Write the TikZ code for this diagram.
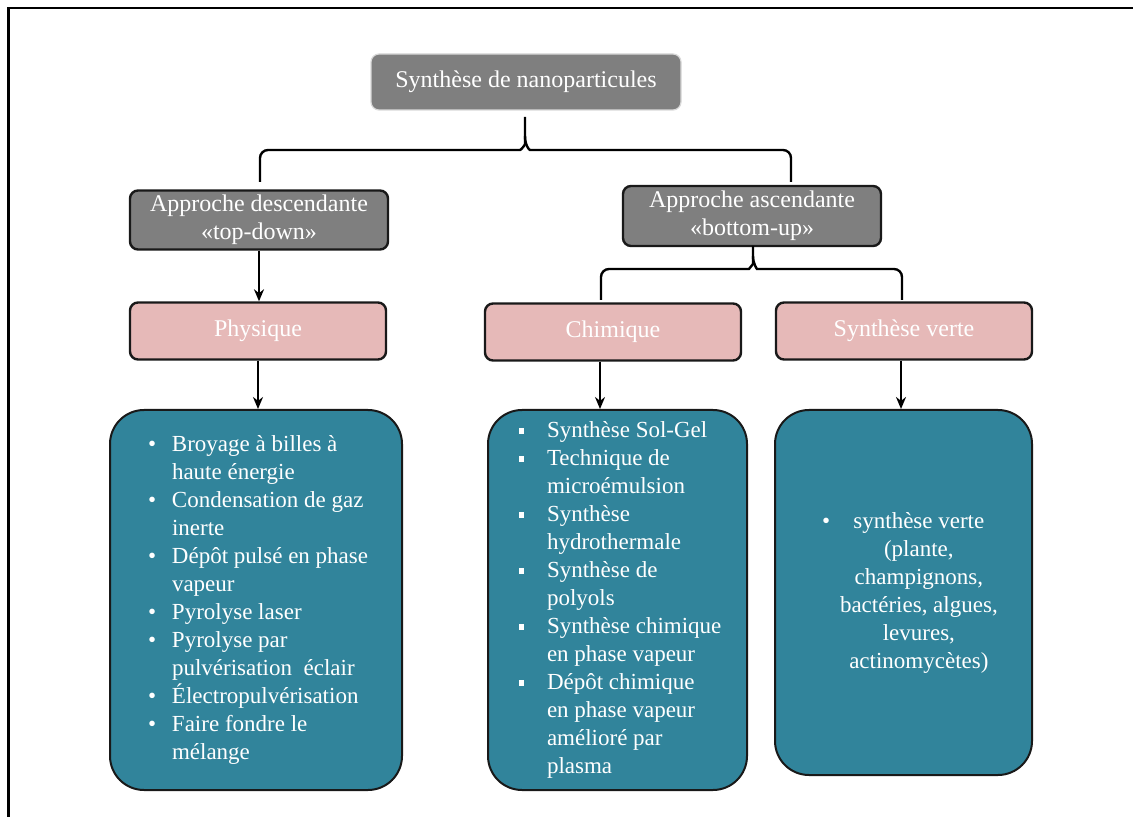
\documentclass[tikz,border=0pt]{standalone}
\usepackage{fontspec}
\setmainfont{Liberation Serif}
\usetikzlibrary{arrows.meta, calc, positioning}
\definecolor{grisbox}{RGB}{127,127,127}
\definecolor{rosebox}{RGB}{230,185,184}
\definecolor{bleubox}{RGB}{49,132,155}
\definecolor{bord}{RGB}{25,25,25}
\newcommand{\rond}{\makebox[12pt][l]{•}}
\newcommand{\carre}{\makebox[14pt][l]{\rule[2pt]{2.6pt}{2.6pt}}}

\begin{document}
\begin{tikzpicture}[x=0.5pt, y=-0.5pt,
    titre/.style={draw=bord, line width=1.2pt, fill=grisbox, rounded corners=4pt, text=white,
        align=center, font=\fontsize{12}{14}\selectfont, inner ysep=1pt},
    methode/.style={draw=bord, line width=1.2pt, fill=rosebox, rounded corners=4pt, text=white,
        font=\fontsize{12}{14}\selectfont, minimum width=128pt, minimum height=28.5pt},
    liste/.style={draw=bord, line width=1pt, fill=bleubox, rounded corners=17pt, text=white,
        inner sep=0pt, font=\fontsize{11.5}{14}\selectfont},
    fleche/.style={line width=1pt, -{Stealth[length=6pt,width=5pt]}},
    accolade/.style={line width=1.2pt, rounded corners=4pt}]

    \useasboundingbox (0,0) rectangle (1133,817);

    % Cadre
    \draw[line width=1.3pt] (1133,8) -- (8.5,8) -- (8.5,817);

    % Titre et approches
    \node[titre, draw=gray!30, line width=0.6pt, minimum width=155pt, minimum height=28pt] (nano) at (526,82) {Synthèse de nanoparticules};
    \node[titre, minimum width=129pt, minimum height=29.5pt] (descendante) at (259,220) {Approche descendante\\«top-down»};
    \node[titre, minimum width=129pt, minimum height=30pt] (ascendante) at (752,216) {Approche ascendante\\«bottom-up»};

    % Methodes
    \node[methode] (phys) at (258,331) {Physique};
    \node[methode] (chim) at (613,332) {Chimique};
    \node[methode] (verte) at (904,331) {Synthèse verte};

    % Listes
    \node[liste, minimum width=146pt, minimum height=190pt] (physliste) at (256,600) {%
        \makebox[146pt][l]{\hspace{19pt}%
        \begin{tabular}{@{}l@{}l@{}}
            \rond & Broyage à billes  à\\
                  & haute énergie\\
            \rond & Condensation de gaz\\
                  & inerte\\
            \rond & Dépôt pulsé en phase\\
                  & vapeur\\
            \rond & Pyrolyse laser\\
            \rond & Pyrolyse par\\
                  & pulvérisation~ éclair\\
            \rond & Électropulvérisation\\
            \rond & Faire fondre le\\
                  & mélange
        \end{tabular}}};
    \node[liste, minimum width=129.5pt, minimum height=190pt] (chimliste) at (617.5,600) {%
        \makebox[129.5pt][l]{\hspace{15.5pt}%
        \begin{tabular}{@{}l@{}l@{}}
            \carre & Synthèse Sol-Gel\\
            \carre & Technique de\\
                   & microémulsion\\
            \carre & Synthèse\\
                   & hydrothermale\\
            \carre & Synthèse de\\
                   & polyols\\
            \carre & Synthèse chimique\\
                   & en phase vapeur\\
            \carre & Dépôt chimique\\
                   & en phase vapeur\\
                   & amélioré par\\
                   & plasma
        \end{tabular}}};
    \node[liste, minimum width=128.5pt, minimum height=182.5pt] (verteliste) at (903.5,592.5) {%
        \makebox[128.5pt][l]{\hspace{23.5pt}%
        \begin{tabular}{@{}l@{}c@{}}
            \makebox[9pt][l]{•} & synthèse verte\\
                  & (plante,\\
                  & champignons,\\
                  & bactéries, algues,\\
                  & levures,\\
                  & actinomycètes)
        \end{tabular}}};

    % Accolades
    \coordinate (b1p) at (525,117);
    \coordinate (b1g) at (260,182);
    \coordinate (b1d) at (791,182);
    \draw[accolade] (b1g) |- (512,150) .. controls (521,150) and (525,145) .. (525,136) -- (b1p);
    \draw[accolade] (b1d) |- (538,150) .. controls (529,150) and (525,145) .. (525,136);
    \coordinate (b2p) at (753,246);
    \coordinate (b2g) at (601,300);
    \coordinate (b2d) at (902,300);
    \draw[accolade] (b2g) |- (741,269) .. controls (749,269) and (753,264) .. (753,256) -- (b2p);
    \draw[accolade] (b2d) |- (765,269) .. controls (757,269) and (753,264) .. (753,256);

    % Fleches
    \draw[fleche] (descendante.south) -- (descendante.south |- phys.north);
    \draw[fleche] (phys.south) -- (phys.south |- physliste.north);
    \coordinate (chimdep) at ($(chim.south)+(-13,0)$);
    \draw[fleche] (chimdep) -- (chimdep |- chimliste.north);
    \draw[fleche] ([xshift=-1.5pt]verte.south) -- ([xshift=-1.5pt]verte.south |- verteliste.north);

\end{tikzpicture}
\end{document}
